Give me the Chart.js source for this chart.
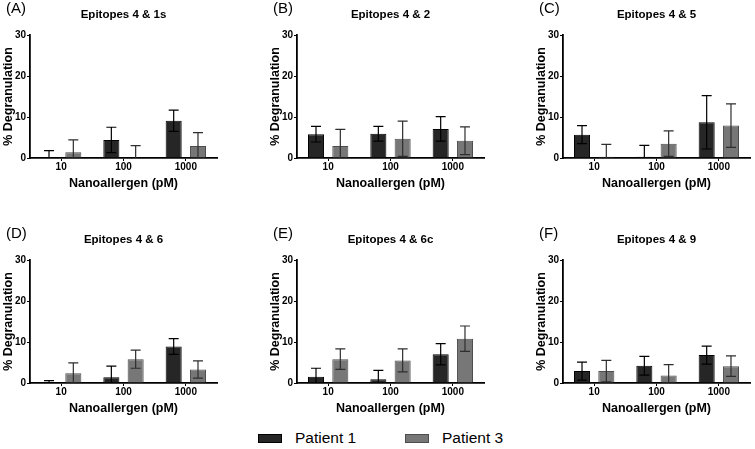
<!DOCTYPE html>
<html>
<head>
<meta charset="utf-8">
<script src="https://cdn.jsdelivr.net/npm/chart.js@4.4.0/dist/chart.umd.min.js"></script>
<style>
  body { margin: 0; background: #fff; }
  #wrap { position: relative; width: 755px; height: 449px; overflow: hidden; font-family: "Liberation Sans", Arial, sans-serif; }
  #wrap canvas { position: absolute; }
  .legend { position: absolute; top: 428px; height: 20px; display: flex; align-items: center; font-size: 15.5px; color: #000; }
  .legend span.sw { display: inline-block; width: 22px; height: 7px; margin-right: 13px; }
</style>
</head>
<body>
<div id="wrap">
  <canvas id="pA" width="222" height="200" style="left:0px;top:0px"></canvas>
  <canvas id="pB" width="222" height="200" style="left:267px;top:0px"></canvas>
  <canvas id="pC" width="222" height="200" style="left:533px;top:0px"></canvas>
  <canvas id="pD" width="222" height="200" style="left:0px;top:225px"></canvas>
  <canvas id="pE" width="222" height="200" style="left:267px;top:225px"></canvas>
  <canvas id="pF" width="222" height="200" style="left:533px;top:225px"></canvas>
  <div class="legend" id="leg1" style="left:258px"></div>
  <div class="legend" id="leg2" style="left:405px"></div>
</div>
<script>
const CATEGORIES = ['10', '100', '1000'];
const SERIES = ['Patient 1', 'Patient 3'];
const PANEL_LETTERS = ['(A)', '(B)', '(C)', '(D)', '(E)', '(F)'];
const PANEL_TITLES = ['Epitopes 4 & 1s', 'Epitopes 4 & 2', 'Epitopes 4 & 5',
                      'Epitopes 4 & 6', 'Epitopes 4 & 6c', 'Epitopes 4 & 9'];
const Y_TICKS = [0, 10, 20, 30];

// mean % degranulation and error (SD) per concentration
const A_P1 = [0, 4.4, 9.1];    const A_P1_SD = [1.8, 3.1, 2.6];
const A_P3 = [1.4, 0, 2.9];    const A_P3_SD = [3.0, 3.0, 3.3];
const B_P1 = [5.8, 5.9, 7.1];  const B_P1_SD = [1.9, 1.8, 3.0];
const B_P3 = [2.9, 4.7, 4.2];  const B_P3_SD = [4.1, 4.3, 3.4];
const C_P1 = [5.7, 0.3, 8.7];  const C_P1_SD = [2.2, 2.8, 6.5];
const C_P3 = [0.3, 3.5, 7.9];  const C_P3_SD = [3.0, 3.1, 5.3];
const D_P1 = [0, 1.4, 8.9];    const D_P1_SD = [0.6, 2.7, 1.9];
const D_P3 = [2.4, 5.8, 3.3];  const D_P3_SD = [2.5, 2.2, 2.1];
const E_P1 = [1.5, 0.9, 7.0];  const E_P1_SD = [2.1, 2.2, 2.6];
const E_P3 = [5.8, 5.5, 10.8]; const E_P3_SD = [2.5, 2.8, 3.1];
const F_P1 = [2.9, 4.2, 6.8];  const F_P1_SD = [2.2, 2.3, 2.2];
const F_P3 = [2.9, 1.8, 4.1];  const F_P3_SD = [2.6, 2.7, 2.5];

const FONT = '"Liberation Sans", Arial, sans-serif';
const FILLS = ['#262626', '#777777'];
const BORDERS = ['#000000', '#4d4d4d'];
const ERR_COLORS = ['#000000', '#2e2e2e'];

const errorBars = {
  id: 'errorBars',
  afterDatasetsDraw(chart) {
    const { ctx, chartArea, scales: { y } } = chart;
    ctx.save();
    ctx.beginPath();
    ctx.rect(chartArea.left, chartArea.top - 30, chartArea.width, chartArea.height + 30);
    ctx.clip();
    chart.data.datasets.forEach((ds, i) => {
      const meta = chart.getDatasetMeta(i);
      meta.data.forEach((bar, j) => {
        const v = ds.data[j], e = ds.errors[j];
        const top = y.getPixelForValue(v + e);
        const low = y.getPixelForValue(Math.max(v - e, 0));
        const cap = 5;
        ctx.strokeStyle = ERR_COLORS[i];
        ctx.lineWidth = 1.2;
        ctx.beginPath();
        ctx.moveTo(bar.x, low);
        ctx.lineTo(bar.x, top);
        ctx.moveTo(bar.x - cap, top);
        ctx.lineTo(bar.x + cap, top);
        if (v - e > 0) {
          ctx.moveTo(bar.x - cap, low);
          ctx.lineTo(bar.x + cap, low);
        }
        ctx.stroke();
      });
    });
    ctx.restore();
  }
};

const panelText = {
  id: 'panelText',
  afterDraw(chart, args, opts) {
    const { ctx, chartArea } = chart;
    ctx.save();
    ctx.fillStyle = '#000';
    ctx.textBaseline = 'middle';
    ctx.textAlign = 'left';
    ctx.font = '15px ' + FONT;
    ctx.fillText(opts.letter, chartArea.left - 24, 9);
    ctx.textAlign = 'center';
    ctx.font = 'bold 11.5px ' + FONT;
    ctx.fillText(opts.title, (chartArea.left + chartArea.right) / 2, 15);
    ctx.restore();
  }
};

function makePanel(id, idx, p1, p1sd, p3, p3sd) {
  const ctx = document.getElementById(id).getContext('2d');
  return new Chart(ctx, {
    type: 'bar',
    data: {
      labels: CATEGORIES,
      datasets: [
        { label: SERIES[0], data: p1, errors: p1sd, backgroundColor: FILLS[0], borderColor: BORDERS[0], borderWidth: 1 },
        { label: SERIES[1], data: p3, errors: p3sd, backgroundColor: FILLS[1], borderColor: BORDERS[1], borderWidth: 1 }
      ]
    },
    options: {
      responsive: false,
      animation: false,
      layout: { padding: { top: 35, right: 5, left: 0, bottom: 0 } },
      datasets: { bar: { categoryPercentage: 0.78, barPercentage: 0.66 } },
      scales: {
        x: {
          offset: true,
          grid: { display: true, offset: false, drawOnChartArea: false, tickLength: 3, color: '#000' },
          border: { display: true, color: '#000', width: 1.8 },
          ticks: { color: '#000', padding: 0, font: { family: FONT, size: 10, weight: 'bold' } },
          title: { display: true, text: 'Nanoallergen (pM)', color: '#000',
                   font: { family: FONT, size: 12.5, weight: 'bold' }, padding: { top: 0, bottom: 9 } },
          afterFit: s => { s.height = 42; }
        },
        y: {
          min: 0, max: 30,
          afterBuildTicks: s => { s.ticks = Y_TICKS.map(v => ({ value: v })); },
          grid: { display: true, drawOnChartArea: false, tickLength: 3, color: '#000' },
          border: { display: true, color: '#000', width: 1.8 },
          ticks: { color: '#000', padding: 1, font: { family: FONT, size: 10, weight: 'bold' } },
          title: { display: true, text: '% Degranulation', color: '#000',
                   font: { family: FONT, size: 12.5, weight: 'bold' }, padding: { top: 1, bottom: 0 } },
          afterFit: s => { s.width = 30; }
        }
      },
      plugins: {
        legend: { display: false },
        tooltip: { enabled: false },
        panelText: { letter: PANEL_LETTERS[idx], title: PANEL_TITLES[idx] }
      }
    },
    plugins: [errorBars, panelText]
  });
}

makePanel('pA', 0, A_P1, A_P1_SD, A_P3, A_P3_SD);
makePanel('pB', 1, B_P1, B_P1_SD, B_P3, B_P3_SD);
makePanel('pC', 2, C_P1, C_P1_SD, C_P3, C_P3_SD);
makePanel('pD', 3, D_P1, D_P1_SD, D_P3, D_P3_SD);
makePanel('pE', 4, E_P1, E_P1_SD, E_P3, E_P3_SD);
makePanel('pF', 5, F_P1, F_P1_SD, F_P3, F_P3_SD);

// shared legend
['leg1', 'leg2'].forEach((id, i) => {
  const el = document.getElementById(id);
  const sw = document.createElement('span');
  sw.className = 'sw';
  sw.style.background = FILLS[i];
  sw.style.border = '1px solid ' + BORDERS[i];
  el.appendChild(sw);
  el.appendChild(document.createTextNode(SERIES[i]));
});
</script>
</body>
</html>
